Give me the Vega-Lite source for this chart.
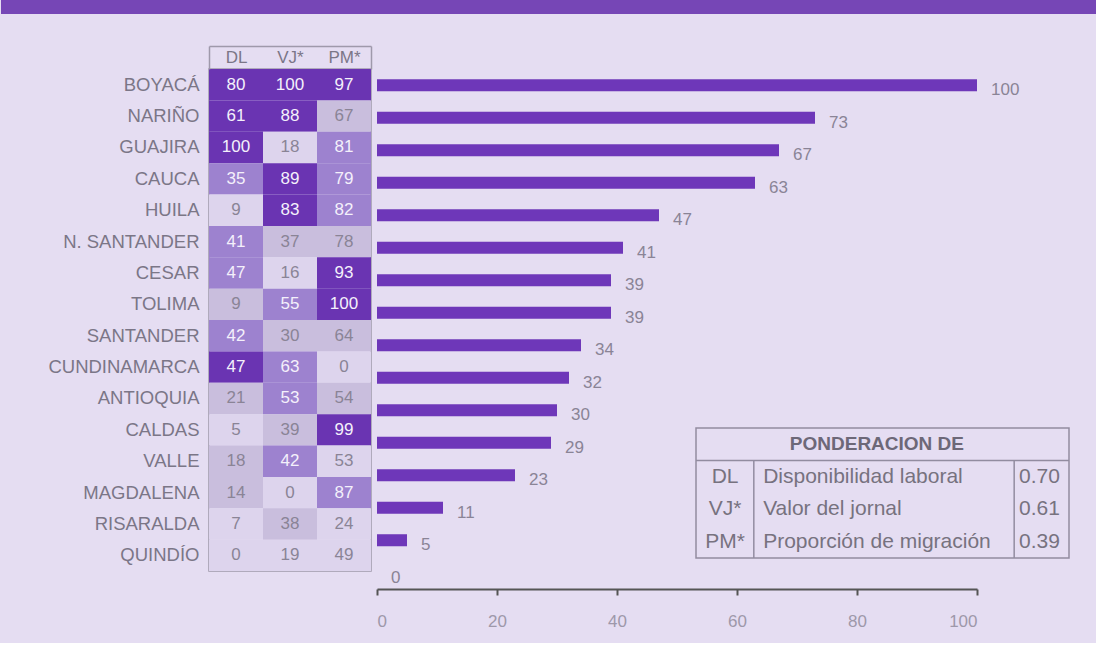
{
  "$schema": "https://vega.github.io/schema/vega-lite/v6.json",
  "background": "#e5ddf2",
  "padding": {"left": 0, "top": 0, "right": 0, "bottom": 14},
  "config": {"font": "Liberation Sans", "view": {"stroke": null}},
  "datasets": {
    "indicadores": [
      {"departamento": "BOYACÁ", "variable": "DL", "valor": 80, "cuartil": 4},
      {"departamento": "BOYACÁ", "variable": "VJ*", "valor": 100, "cuartil": 4},
      {"departamento": "BOYACÁ", "variable": "PM*", "valor": 97, "cuartil": 4},
      {"departamento": "NARIÑO", "variable": "DL", "valor": 61, "cuartil": 4},
      {"departamento": "NARIÑO", "variable": "VJ*", "valor": 88, "cuartil": 4},
      {"departamento": "NARIÑO", "variable": "PM*", "valor": 67, "cuartil": 2},
      {"departamento": "GUAJIRA", "variable": "DL", "valor": 100, "cuartil": 4},
      {"departamento": "GUAJIRA", "variable": "VJ*", "valor": 18, "cuartil": 1},
      {"departamento": "GUAJIRA", "variable": "PM*", "valor": 81, "cuartil": 3},
      {"departamento": "CAUCA", "variable": "DL", "valor": 35, "cuartil": 3},
      {"departamento": "CAUCA", "variable": "VJ*", "valor": 89, "cuartil": 4},
      {"departamento": "CAUCA", "variable": "PM*", "valor": 79, "cuartil": 3},
      {"departamento": "HUILA", "variable": "DL", "valor": 9, "cuartil": 1},
      {"departamento": "HUILA", "variable": "VJ*", "valor": 83, "cuartil": 4},
      {"departamento": "HUILA", "variable": "PM*", "valor": 82, "cuartil": 3},
      {"departamento": "N. SANTANDER", "variable": "DL", "valor": 41, "cuartil": 3},
      {"departamento": "N. SANTANDER", "variable": "VJ*", "valor": 37, "cuartil": 2},
      {"departamento": "N. SANTANDER", "variable": "PM*", "valor": 78, "cuartil": 2},
      {"departamento": "CESAR", "variable": "DL", "valor": 47, "cuartil": 3},
      {"departamento": "CESAR", "variable": "VJ*", "valor": 16, "cuartil": 1},
      {"departamento": "CESAR", "variable": "PM*", "valor": 93, "cuartil": 4},
      {"departamento": "TOLIMA", "variable": "DL", "valor": 9, "cuartil": 2},
      {"departamento": "TOLIMA", "variable": "VJ*", "valor": 55, "cuartil": 3},
      {"departamento": "TOLIMA", "variable": "PM*", "valor": 100, "cuartil": 4},
      {"departamento": "SANTANDER", "variable": "DL", "valor": 42, "cuartil": 3},
      {"departamento": "SANTANDER", "variable": "VJ*", "valor": 30, "cuartil": 2},
      {"departamento": "SANTANDER", "variable": "PM*", "valor": 64, "cuartil": 2},
      {"departamento": "CUNDINAMARCA", "variable": "DL", "valor": 47, "cuartil": 4},
      {"departamento": "CUNDINAMARCA", "variable": "VJ*", "valor": 63, "cuartil": 3},
      {"departamento": "CUNDINAMARCA", "variable": "PM*", "valor": 0, "cuartil": 1},
      {"departamento": "ANTIOQUIA", "variable": "DL", "valor": 21, "cuartil": 2},
      {"departamento": "ANTIOQUIA", "variable": "VJ*", "valor": 53, "cuartil": 3},
      {"departamento": "ANTIOQUIA", "variable": "PM*", "valor": 54, "cuartil": 2},
      {"departamento": "CALDAS", "variable": "DL", "valor": 5, "cuartil": 1},
      {"departamento": "CALDAS", "variable": "VJ*", "valor": 39, "cuartil": 2},
      {"departamento": "CALDAS", "variable": "PM*", "valor": 99, "cuartil": 4},
      {"departamento": "VALLE", "variable": "DL", "valor": 18, "cuartil": 2},
      {"departamento": "VALLE", "variable": "VJ*", "valor": 42, "cuartil": 3},
      {"departamento": "VALLE", "variable": "PM*", "valor": 53, "cuartil": 1},
      {"departamento": "MAGDALENA", "variable": "DL", "valor": 14, "cuartil": 2},
      {"departamento": "MAGDALENA", "variable": "VJ*", "valor": 0, "cuartil": 1},
      {"departamento": "MAGDALENA", "variable": "PM*", "valor": 87, "cuartil": 3},
      {"departamento": "RISARALDA", "variable": "DL", "valor": 7, "cuartil": 1},
      {"departamento": "RISARALDA", "variable": "VJ*", "valor": 38, "cuartil": 2},
      {"departamento": "RISARALDA", "variable": "PM*", "valor": 24, "cuartil": 1},
      {"departamento": "QUINDÍO", "variable": "DL", "valor": 0, "cuartil": 1},
      {"departamento": "QUINDÍO", "variable": "VJ*", "valor": 19, "cuartil": 1},
      {"departamento": "QUINDÍO", "variable": "PM*", "valor": 49, "cuartil": 1}
    ],
    "indice": [
      {"departamento": "BOYACÁ", "indice": 100},
      {"departamento": "NARIÑO", "indice": 73},
      {"departamento": "GUAJIRA", "indice": 67},
      {"departamento": "CAUCA", "indice": 63},
      {"departamento": "HUILA", "indice": 47},
      {"departamento": "N. SANTANDER", "indice": 41},
      {"departamento": "CESAR", "indice": 39},
      {"departamento": "TOLIMA", "indice": 39},
      {"departamento": "SANTANDER", "indice": 34},
      {"departamento": "CUNDINAMARCA", "indice": 32},
      {"departamento": "ANTIOQUIA", "indice": 30},
      {"departamento": "CALDAS", "indice": 29},
      {"departamento": "VALLE", "indice": 23},
      {"departamento": "MAGDALENA", "indice": 11},
      {"departamento": "RISARALDA", "indice": 5},
      {"departamento": "QUINDÍO", "indice": 0}
    ],
    "ponderacion": [
      {"codigo": "DL", "nombre": "Disponibilidad laboral", "peso": 0.70},
      {"codigo": "VJ*", "nombre": "Valor del jornal", "peso": 0.61},
      {"codigo": "PM*", "nombre": "Proporción de migración", "peso": 0.39}
    ]
  },
  "spacing": 30,
  "vconcat": [
    {
      "width": 888,
      "height": 14,
      "data": {"values": [{"franja": "encabezado"}]},
      "mark": {"type": "rect", "color": "#7646b6"},
      "encoding": {
        "x": {"datum": 0, "type": "quantitative", "scale": {"domain": [0, 1], "range": [-208, 888], "nice": false, "zero": false}, "axis": null},
        "x2": {"datum": 1}
      }
    },
    {
      "bounds": "flush",
      "spacing": 6,
      "hconcat": [
        {
          "width": 162,
          "height": 502,
          "view": {"stroke": "#9f99ab", "strokeWidth": 1.5},
          "data": {"name": "indicadores"},
          "encoding": {
            "x": {
              "field": "variable", "type": "nominal", "sort": ["DL", "VJ*", "PM*"],
              "scale": {"paddingInner": 0, "paddingOuter": 0},
              "axis": {
                "orient": "top", "title": null, "labelAngle": 0, "labelFontSize": 17, "labelColor": "#7b7687",
                "domain": true, "domainColor": "#9f99ab", "domainWidth": 1.5, "offset": 23,
                "ticks": true, "tickBand": "extent", "tickSize": -23, "tickColor": "#9f99ab", "tickWidth": 1.5,
                "tickOpacity": {"condition": {"test": "datum.value === 'PM*' || datum.index < 0", "value": 1}, "value": 0},
                "labelPadding": 11.5, "labelBaseline": "middle"
              }
            },
            "y": {
              "field": "departamento", "type": "nominal",
              "sort": ["BOYACÁ", "NARIÑO", "GUAJIRA", "CAUCA", "HUILA", "N. SANTANDER", "CESAR", "TOLIMA", "SANTANDER", "CUNDINAMARCA", "ANTIOQUIA", "CALDAS", "VALLE", "MAGDALENA", "RISARALDA", "QUINDÍO"],
              "scale": {"paddingInner": 0, "paddingOuter": 0},
              "axis": {"title": null, "ticks": false, "domain": false, "labelFontSize": 18.5, "labelColor": "#7b7687", "labelPadding": 10, "minExtent": 208}
            }
          },
          "layer": [
            {
              "mark": {"type": "rect"},
              "encoding": {
                "color": {"field": "cuartil", "type": "ordinal", "scale": {"domain": [1, 2, 3, 4], "range": ["#ddd4ed", "#c9bedd", "#9d82cf", "#6a34b2"]}, "legend": null}
              }
            },
            {
              "mark": {"type": "text", "fontSize": 17},
              "encoding": {
                "text": {"field": "valor"},
                "color": {"condition": {"test": "datum.cuartil >= 3", "value": "#f4f0fb"}, "value": "#8a8496"}
              }
            }
          ]
        },
        {
          "width": 600,
          "height": 520,
          "layer": [
            {
              "data": {"name": "indice"},
              "encoding": {
                "x": {
                  "field": "indice", "type": "quantitative",
                  "scale": {"domain": [0, 100], "nice": false},
                  "axis": {"title": null, "values": [0, 20, 40, 60, 80, 100], "grid": false, "domainColor": "#555555", "domainWidth": 2, "tickColor": "#555555", "tickWidth": 2, "tickSize": 6, "labelPadding": 18, "labelFontSize": 17, "labelColor": "#9e98aa"}
                },
                "y": {
                  "field": "departamento", "type": "nominal",
                  "sort": ["BOYACÁ", "NARIÑO", "GUAJIRA", "CAUCA", "HUILA", "N. SANTANDER", "CESAR", "TOLIMA", "SANTANDER", "CUNDINAMARCA", "ANTIOQUIA", "CALDAS", "VALLE", "MAGDALENA", "RISARALDA", "QUINDÍO"],
                  "scale": {"paddingInner": 0.63, "paddingOuter": 0.315},
                  "axis": null
                }
              },
              "layer": [
                {"mark": {"type": "bar", "color": "#6e37b9"}},
                {"mark": {"type": "text", "align": "left", "dx": 14, "dy": 5, "fontSize": 17, "color": "#8a8496"}, "encoding": {"text": {"field": "indice"}}}
              ]
            },
            {
              "layer": [
                {
                  "data": {"values": [{"titulo": "PONDERACION DE"}]},
                  "layer": [
                    {
                      "mark": {"type": "rect", "fillOpacity": 0, "stroke": "#928ca0", "strokeWidth": 1.5},
                      "encoding": {
                        "x": {"datum": 0, "type": "quantitative", "scale": {"domain": [0, 100], "range": [319, 692], "nice": false, "zero": false}, "axis": null},
                        "x2": {"datum": 100},
                        "y": {"datum": 0, "type": "quantitative", "scale": {"domain": [0, 4], "range": [359, 489], "nice": false, "zero": false}, "axis": null},
                        "y2": {"datum": 4}
                      }
                    },
                    {
                      "mark": {"type": "rule", "color": "#928ca0", "strokeWidth": 1.5},
                      "encoding": {
                        "x": {"datum": 0, "type": "quantitative", "axis": null},
                        "x2": {"datum": 100},
                        "y": {"datum": 1, "type": "quantitative", "axis": null}
                      }
                    },
                    {
                      "mark": {"type": "rule", "color": "#928ca0", "strokeWidth": 1.5},
                      "encoding": {
                        "x": {"datum": 15.5, "type": "quantitative", "axis": null},
                        "y": {"datum": 1, "type": "quantitative", "axis": null},
                        "y2": {"datum": 4}
                      }
                    },
                    {
                      "mark": {"type": "rule", "color": "#928ca0", "strokeWidth": 1.5},
                      "encoding": {
                        "x": {"datum": 85.3, "type": "quantitative", "axis": null},
                        "y": {"datum": 1, "type": "quantitative", "axis": null},
                        "y2": {"datum": 4}
                      }
                    },
                    {
                      "mark": {"type": "text", "fontSize": 19, "fontWeight": "bold", "color": "#6d6878"},
                      "encoding": {
                        "x": {"datum": 48.5, "type": "quantitative", "axis": null},
                        "y": {"datum": 0.5, "type": "quantitative", "axis": null},
                        "text": {"field": "titulo"}
                      }
                    }
                  ]
                },
                {
                  "data": {"name": "ponderacion"},
                  "encoding": {
                    "y": {"field": "codigo", "type": "nominal", "sort": ["DL", "VJ*", "PM*"], "scale": {"range": [391.5, 489], "paddingInner": 0, "paddingOuter": 0}, "axis": null}
                  },
                  "layer": [
                    {
                      "mark": {"type": "text", "fontSize": 21, "align": "center", "color": "#77727f"},
                      "encoding": {"x": {"datum": 7.8, "type": "quantitative", "axis": null}, "text": {"field": "codigo"}}
                    },
                    {
                      "mark": {"type": "text", "fontSize": 21, "align": "left", "color": "#77727f"},
                      "encoding": {"x": {"datum": 18, "type": "quantitative", "axis": null}, "text": {"field": "nombre"}}
                    },
                    {
                      "mark": {"type": "text", "fontSize": 21, "align": "left", "color": "#77727f"},
                      "encoding": {"x": {"datum": 86.6, "type": "quantitative", "axis": null}, "text": {"field": "peso", "format": ".2f"}}
                    }
                  ]
                }
              ],
              "resolve": {"scale": {"y": "independent"}}
            }
          ],
          "resolve": {"scale": {"x": "independent", "y": "independent"}}
        }
      ]
    }
  ]
}
